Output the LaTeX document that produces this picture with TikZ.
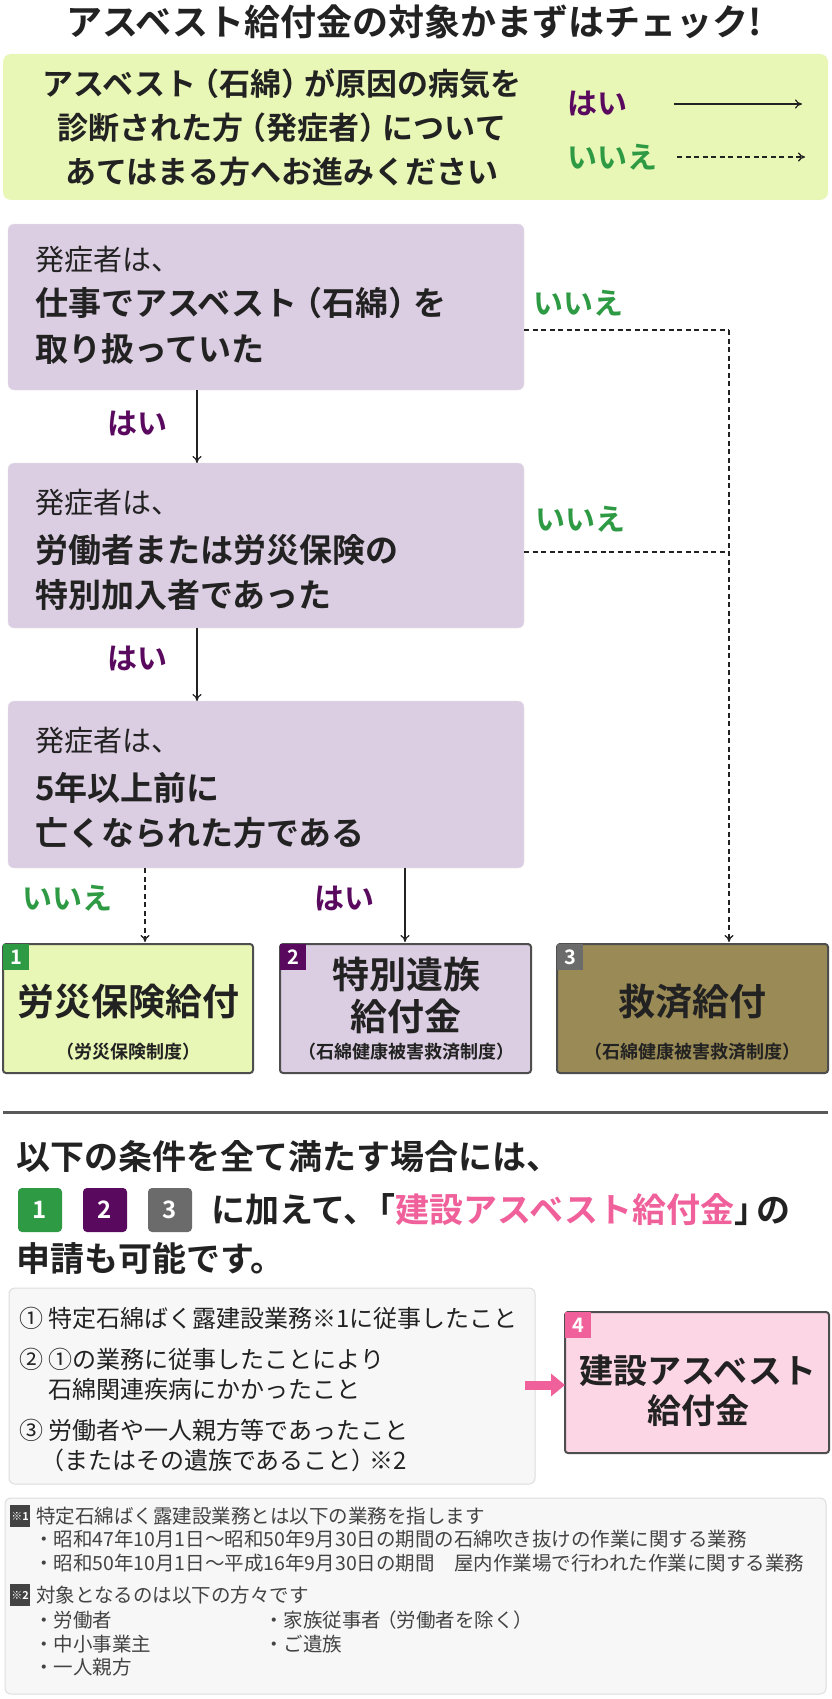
\documentclass[tikz,border=0pt]{standalone}
\usepackage{fontspec}
\setmainfont{Noto Sans CJK JP}[BoldFont={Noto Sans CJK JP Bold}]
\usetikzlibrary{arrows.meta}
\definecolor{ink}{HTML}{222222}
\definecolor{gtxt}{HTML}{2E9A44}
\definecolor{ptxt}{HTML}{5A0A5E}
\definecolor{pink}{HTML}{F0609A}
\definecolor{gfill}{HTML}{E8F6B6}
\definecolor{lav}{HTML}{DCCEE2}
\definecolor{olive}{HTML}{9A8A55}
\definecolor{gbadge}{HTML}{6B6B6B}
\definecolor{pfill}{HTML}{FCD6E4}
\definecolor{lgray}{HTML}{F7F7F7}
\definecolor{lbord}{HTML}{DDDDDD}
\begin{document}
\begin{tikzpicture}[x=1pt,y=-1pt,
  lbl/.style={anchor=west,inner sep=0pt,text=ink},
  bt/.style={font=\bfseries\fontsize{33}{36}\selectfont},
  rt/.style={font=\fontsize{29}{32}\selectfont},
  yes/.style={anchor=west,inner sep=0pt,text=ptxt,font=\bfseries\fontsize{30}{32}\selectfont},
  no/.style={anchor=west,inner sep=0pt,text=gtxt,font=\bfseries\fontsize{30}{32}\selectfont},
  qbox/.style={fill=lav,draw=lav!80!black!30,rounded corners=6pt},
  solidarr/.style={-{To[length=7pt,width=9pt]},line width=1.2pt,ink},
  dasharr/.style={-{To[length=7pt,width=9pt]},line width=1.3pt,ink,dash pattern=on 5pt off 3.5pt},
  dashln/.style={line width=1.3pt,ink,dash pattern=on 5pt off 3.5pt},
  rbox/.style={draw=ink!80,line width=2pt,rounded corners=3pt},
  badge/.style={text=white,font=\bfseries\fontsize{20}{20}\selectfont,minimum size=26pt,inner sep=0pt},
  big/.style={font=\bfseries\fontsize{37}{40}\selectfont,text=ink,align=center,inner sep=0pt},
  sub/.style={font=\bfseries\fontsize{18}{20}\selectfont,text=ink,inner sep=0pt},
  cond/.style={anchor=west,inner sep=0pt,text=ink,font=\fontsize{24}{26}\selectfont},
  fn/.style={anchor=west,inner sep=0pt,text=ink!85,font=\fontsize{19.5}{21}\selectfont},
  fnb/.style={fill=ink!85,text=white,font=\bfseries\fontsize{11}{11}\selectfont,minimum width=20pt,minimum height=22pt,inner sep=0pt}
]
\useasboundingbox (0,0) rectangle (831,1699);
\fill[white] (0,0) rectangle (831,1699);
% title
\node[inner sep=0pt,text=ink,font=\bfseries\fontsize{36}{38}\selectfont] (title) at (414,22) {アスベスト給付金の対象かまずはチェック!};
% intro box
\fill[gfill,rounded corners=8pt] (3,54) rectangle (828,200);
\node[inner sep=0pt,text=ink,align=center,font=\bfseries\fontsize{31}{44}\selectfont] (intro) at (282,128) {アスベスト\kern-8pt（石綿）\kern-8ptが原因の病気を\\診断された方\kern-8pt（発症者）\kern-8ptについて\\あてはまる方へお進みください};
\node[yes] (iyes) at (567,104) {はい};
\node[no] (ino) at (567,157) {いいえ};
\coordinate (ya) at (674,104); \coordinate (yb) at (802,104);
\coordinate (na) at (677,157); \coordinate (nb) at (805,157);
\draw[solidarr] (ya) -- (yb);
\draw[dasharr] (na) -- (nb);
% question boxes
\fill[qbox] (8,224) rectangle (524,390);
\node[lbl,rt] (a1) at (35,260) {発症者は、};
\node[lbl,bt] (a2) at (35,303) {仕事でアスベスト\kern-8pt（石綿）\kern-8ptを};
\node[lbl,bt] (a3) at (35,349) {取り扱っていた};
\fill[qbox] (8,463) rectangle (524,628);
\node[lbl,rt] (b1) at (35,503) {発症者は、};
\node[lbl,bt] (b2) at (35,550) {労働者または労災保険の};
\node[lbl,bt] (b3) at (35,595) {特別加入者であった};
\fill[qbox] (8,701) rectangle (524,868);
\node[lbl,rt] (c1) at (35,741) {発症者は、};
\node[lbl,bt] (c2) at (35,788) {5年以上前に};
\node[lbl,bt] (c3) at (35,833) {亡くなられた方である};
\coordinate (Abot) at (197,390); \coordinate (Btop) at (197,463);
\coordinate (Bbot) at (197,628); \coordinate (Ctop) at (197,701);
\draw[solidarr] (Abot) -- (Btop);
\draw[solidarr] (Bbot) -- (Ctop);
\node[yes] (ayes) at (107,424) {はい};
\node[yes] (byes) at (107,658) {はい};
\node[no] (ano) at (533,303) {いいえ};
\node[no] (bno) at (535,519) {いいえ};
\coordinate (Ar) at (524,330); \coordinate (Ak) at (729,330);
\coordinate (Br) at (524,552); \coordinate (Bk) at (729,552);
\coordinate (R3t) at (729,942);
\draw[dashln] (Ar) -- (Ak);
\draw[dashln] (Br) -- (Bk);
\draw[dasharr] (Ak) -- (R3t);
\node[no] (cno) at (22,898) {いいえ};
\node[yes] (cyes) at (314,898) {はい};
\coordinate (C1) at (145,868); \coordinate (R1t) at (145,942);
\coordinate (C2) at (405,868); \coordinate (R2t) at (405,942);
\draw[dasharr] (C1) -- (R1t);
\draw[solidarr] (C2) -- (R2t);
% result boxes
\draw[rbox,fill=gfill] (3,944) rectangle (253,1073);
\node[badge,fill=gtxt,anchor=north west] (bd1) at (3,944) {1};
\node[big] (r1) at (128,1002) {労災保険給付};
\node[sub] (r1s) at (128,1052) {（労災保険制度）};
\draw[rbox,fill=lav] (280,944) rectangle (531,1073);
\node[badge,fill=ptxt,anchor=north west] (bd2) at (280,944) {2};
\node[big,font=\bfseries\fontsize{37}{42}\selectfont] (r2) at (406,995) {特別遺族\\給付金};
\node[sub] (r2s) at (406,1052) {（石綿健康被害救済制度）};
\draw[rbox,fill=olive] (557,944) rectangle (828,1073);
\node[badge,fill=gbadge,anchor=north west] (bd3) at (557,944) {3};
\node[big] (r3) at (692,1002) {救済給付};
\node[sub] (r3s) at (692,1052) {（石綿健康被害救済制度）};
% separator
\draw[line width=3pt,ink!75] (3,1112) -- (828,1112);
% conditions text
\node[lbl,font=\bfseries\fontsize{34}{36}\selectfont] (h1) at (16,1157) {以下の条件を全て満たす場合には、};
\node[badge,fill=gtxt,minimum size=44pt,font=\bfseries\fontsize{24}{24}\selectfont,rounded corners=4pt] (s1) at (40,1210) {1};
\node[badge,fill=ptxt,minimum size=44pt,font=\bfseries\fontsize{24}{24}\selectfont,rounded corners=4pt] (s2) at (105,1210) {2};
\node[badge,fill=gbadge,minimum size=44pt,font=\bfseries\fontsize{24}{24}\selectfont,rounded corners=4pt] (s3) at (170,1210) {3};
\node[lbl,font=\bfseries\fontsize{34}{36}\selectfont] (h2) at (211,1210) {に加えて、\kern-16pt「\textcolor{pink}{建設アスベスト給付金}」\kern-12ptの};
\node[lbl,font=\bfseries\fontsize{34}{36}\selectfont] (h3) at (16,1258) {申請も可能です。};
% condition box
\draw[fill=lgray,draw=lbord,line width=1pt,rounded corners=6pt] (9,1288) rectangle (535,1484);
\node[cond] (k1) at (19,1318) {① 特定石綿ばく露建設業務※1に従事したこと};
\node[cond] (k2) at (19,1359) {② ①の業務に従事したことにより};
\node[cond] (k2b) at (48,1389) {石綿関連疾病にかかったこと};
\node[cond] (k3) at (19,1430) {③ 労働者や一人親方等であったこと};
\node[cond] (k3b) at (40,1460) {（またはその遺族であること）\kern-6pt※2};
% box 4
\draw[rbox,fill=pfill] (565,1312) rectangle (829,1453);
\node[badge,fill=pink,anchor=north west] (bd4) at (565,1312) {4};
\node[big,font=\bfseries\fontsize{34}{40}\selectfont] (r4) at (698,1391) {建設アスベスト\\給付金};
\coordinate (pa) at (525,1385); \coordinate (pb) at (565,1385);
\draw[pink,line width=9pt,-{Triangle[length=14pt,width=22pt]}] (pa) -- (pb);
% footnotes
\draw[fill=lgray,draw=lbord,line width=1pt,rounded corners=6pt] (5,1498) rectangle (826,1694);
\node[fnb] (n1) at (20,1516) {※1};
\node[fn] (f1) at (36,1516) {特定石綿ばく露建設業務とは以下の業務を指します};
\node[fn] (f2) at (34,1539) {・昭和47年10月1日～昭和50年9月30日の期間の石綿吹き抜けの作業に関する業務};
\node[fn] (f3) at (34,1563) {・昭和50年10月1日～平成16年9月30日の期間　屋内作業場で行われた作業に関する業務};
\node[fnb] (n2) at (20,1595) {※2};
\node[fn] (f4) at (36,1595) {対象となるのは以下の方々です};
\node[fn] (f5) at (34,1620) {・労働者};
\node[fn] (f6) at (34,1644) {・中小事業主};
\node[fn] (f7) at (34,1667) {・一人親方};
\node[fn] (f8) at (264,1620) {・家族従事者\kern-4pt（労働者を除く）};
\node[fn] (f9) at (264,1644) {・ご遺族};
\end{tikzpicture}
\end{document}
